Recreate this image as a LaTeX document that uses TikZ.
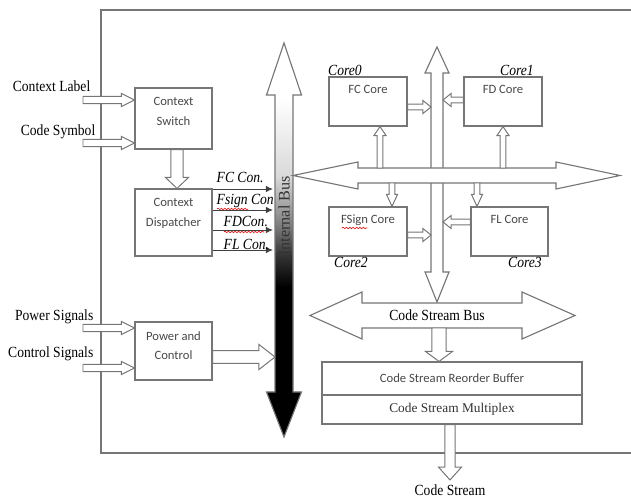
\documentclass[tikz,border=0pt]{standalone}
\usepackage{fontspec}
\setmainfont{Liberation Serif}
\newfontfamily\lblfont{Liberation Serif}[FakeStretch=0.88]
\newfontfamily\boxfont{Carlito}
\usetikzlibrary{calc,arrows.meta,decorations.pathmorphing}

\definecolor{linegray}{RGB}{118,118,118}
\definecolor{boxtext}{RGB}{72,72,72}

% white at the top of the bus, black from the middle down
\pgfdeclareverticalshading{busfade}{100bp}{color(0bp)=(black); color(44bp)=(black);
  color(48bp)=(black!80); color(52bp)=(black!50); color(58bp)=(black!15);
  color(68bp)=(white); color(100bp)=(white)}

% hollow block arrow: from, to, shaft half-width, head half-width, head length
\newcommand{\blockarrow}[5]{%
  \filldraw[blockarr] let \p1=(#1), \p2=(#2),
      \n1={atan2(\y2-\y1,\x2-\x1)}, \n2={veclen(\x2-\x1,\y2-\y1)} in
    ($(\p1)+({\n1+90}:#3)$) -- ++(\n1:{\n2-#5}) -- ++({\n1+90}:{#4-#3}) -- (\p2)
    -- ($(\p2)+({\n1+180}:#5)+({\n1-90}:#4)$) -- ++({\n1+90}:{#4-#3})
    -- ($(\p1)+({\n1-90}:#3)$) -- cycle;}

\begin{document}
\begin{tikzpicture}[x=0.025cm, y=-0.025cm, line join=miter,
  box/.style={draw=linegray, line width=0.8pt, minimum width=1.925cm},
  core/.style={box, minimum width=1.95cm, minimum height=1.225cm},
  boxtxt/.style={font=\boxfont\fontsize{9}{13.8}\selectfont, text=boxtext,
    align=center, anchor=north, inner sep=0pt, yshift=-7pt},
  lbl/.style={font=\lblfont\fontsize{11}{13}\selectfont, inner sep=1pt},
  sig/.style={font=\lblfont\itshape\fontsize{11}{13}\selectfont, inner sep=1pt},
  blockarr/.style={draw=linegray, fill=white, line width=0.7pt},
  bus/.style={draw=linegray, fill=white, line width=0.8pt},
  con/.style={draw=black!75, line width=0.6pt, -{Latex[length=5pt,width=4.5pt]}},
  squig/.style={red, line width=0.4pt, decorate,
    decoration={snake, amplitude=0.6pt, segment length=2.4pt}}]

\useasboundingbox (0,0) rectangle (631,497);

% --- Parameters ---
\def\ibx{284}      % x of the internal bus
\def\vbx{437}      % x of the vertical core bus

% --- Outer frame (open on the right) ---
\draw[linegray, line width=0.8pt] (631,10) -- (101,10) -- (101,453) -- (631,453);

% --- Left blocks ---
\node[box, minimum height=1.525cm, label={[boxtxt]north:Context\\Switch}] (cs) at (173.5,118.5) {};
\node[box, minimum height=1.675cm, label={[boxtxt]north:Context\\Dispatcher}] (cd) at (173.5,222.5) {};
\node[box, minimum height=1.45cm, label={[boxtxt]north:Power and\\Control}] (pc) at (173.5,351) {};

% --- Inputs ---
\node[lbl, anchor=east] (lab) at (92,86) {Context Label};
\node[lbl, anchor=east] (sym) at (97,132) {Code Symbol};
\node[lbl, anchor=east] (pws) at (95,317) {Power Signals};
\node[lbl, anchor=east] (cts) at (95,354) {Control Signals};
\coordinate (in1) at (83,100);
\coordinate (in2) at (83,143);
\coordinate (in3) at (83,328);
\coordinate (in4) at (83,368);
\foreach \c/\b in {in1/cs, in2/cs, in3/pc, in4/pc}
  \blockarrow{\c}{\c -| \b.west}{2.5pt}{4.6pt}{9.2pt};

\coordinate (csdown) at ($(cs.south)+(3.5,0)$);
\blockarrow{csdown}{csdown |- cd.north}{4.3pt}{8.2pt}{7.8pt};

% --- Internal bus (shaded double arrow) ---
\shade[shading=busfade, draw=linegray, line width=0.8pt]
  (\ibx,43) -- (\ibx+17.5,95) -- (\ibx+9,95) -- (\ibx+9,392) -- (\ibx+17.5,392)
  -- (\ibx,437) -- (\ibx-17.5,392) -- (\ibx-9,392) -- (\ibx-9,95) -- (\ibx-17.5,95) -- cycle;
\node[font=\fontsize{11.5}{13}\selectfont, text=black!80, rotate=90] (ibus) at (\ibx,216) {Internal Bus};
\coordinate (ibusW) at (\ibx-9,0);

% --- Dispatcher control lines ---
\foreach \yy in {189, 210, 230, 250}
  \draw[con] (cd.east |- 0,\yy) -- (273,\yy);
\node[sig, anchor=west] (sfc) at (215,177) {FC Con.};
\node[sig, anchor=west] (sfs) at (215,201) {Fsign Con};
\node[sig, anchor=west] (sfd) at (222,221) {FDCon.};
\node[sig, anchor=west] (sfl) at (222,244) {FL Con.};
\draw[squig] (217,209) -- (248,209);
\draw[squig] (224,232) -- (264,232);

\coordinate (pcout) at ($(pc.east)+(0,6)$);
\blockarrow{pcout}{pcout -| ibusW}{4.6pt}{8.9pt}{11.4pt};

% --- Core bus (vertical, then horizontal on top) ---
\draw[bus] (\vbx,47) -- (\vbx+12,73) -- (\vbx+6,73) -- (\vbx+6,272) -- (\vbx+12,272)
  -- (\vbx,302) -- (\vbx-12,272) -- (\vbx-6,272) -- (\vbx-6,73) -- (\vbx-12,73) -- cycle;
\draw[bus] (293,175.5) -- (358,162) -- (358,168) -- (556,168) -- (556,162) -- (620,175.5)
  -- (556,189) -- (556,183) -- (358,183) -- (358,189) -- cycle;
\coordinate (vbusW) at (\vbx-6,0);
\coordinate (vbusE) at (\vbx+6,0);
\coordinate (hbusN) at (0,168);
\coordinate (hbusS) at (0,183);

% --- Cores ---
\node[core, label={[boxtxt, yshift=1pt]north:FC Core}] (fc) at (368,101.5) {};
\node[core, label={[boxtxt, yshift=1pt]north:FD Core}] (fd) at (503,101.5) {};
\node[core, label={[boxtxt, yshift=1pt]north:FSign Core}] (fs) at (368,231.5) {};
\node[core, minimum width=1.925cm, label={[boxtxt, yshift=1pt]north:FL Core}] (fl) at (509.5,231.5) {};
\draw[squig] (342,228) -- (367,228);

\node[sig] (c0) at (345,70) {Core0};
\node[sig] (c1) at (517,70) {Core1};
\node[sig] (c2) at (351,262) {Core2};
\node[sig] (c3) at (525,262) {Core3};

\coordinate (fcout) at ($(fc.east)+(0,5.5)$);
\coordinate (fdin)  at ($(fd.west)+(0,-1.5)$);
\coordinate (fsout) at ($(fs.east)+(0,3.5)$);
\coordinate (flin)  at ($(fl.west)+(0,-9.5)$);
\blockarrow{fcout}{fcout -| vbusW}{2.1pt}{4.6pt}{5.7pt};
\blockarrow{fdin}{fdin -| vbusE}{2.1pt}{4.6pt}{5.7pt};
\blockarrow{fsout}{fsout -| vbusW}{2.1pt}{4.6pt}{5.7pt};
\blockarrow{flin}{flin -| vbusE}{2.1pt}{4.6pt}{5.7pt};

\coordinate (fcup) at ($(fc.south)+(12,0)$);
\coordinate (fdup) at (fd.south);
\coordinate (fsdn) at ($(fs.north)+(24,0)$);
\coordinate (fldn) at ($(fl.north)+(-32.5,0)$);
\blockarrow{fcup |- hbusN}{fcup}{2.1pt}{4.3pt}{6.4pt};
\blockarrow{fdup |- hbusN}{fdup}{2.1pt}{4.3pt}{6.4pt};
\blockarrow{fsdn |- hbusS}{fsdn}{2.1pt}{3.9pt}{8.5pt};
\blockarrow{fldn |- hbusS}{fldn}{2.1pt}{3.9pt}{8.5pt};

% --- Code stream bus ---
\draw[bus] (310,315.5) -- (362,292) -- (362,303) -- (522,303) -- (522,292) -- (575,315.5)
  -- (522,339) -- (522,328) -- (362,328) -- (362,339) -- cycle;
\node[lbl] (csbus) at (437,315) {Code Stream Bus};
\coordinate (csbusS) at (0,328);

% --- Reorder buffer / multiplex ---
\node[box, minimum width=6.5cm, minimum height=0.825cm, font=\boxfont\fontsize{9}{11}\selectfont,
  text=boxtext] (rb) at (452,378.5) {Code Stream Reorder Buffer};
\node[box, minimum width=6.5cm, minimum height=0.725cm, font=\fontsize{9.5}{11}\selectfont,
  text=boxtext!70!black] (mx) at (452,409.5) {Code Stream Multiplex};

\coordinate (bufin) at ($(rb.north)+(-13,0)$);
\blockarrow{bufin |- csbusS}{bufin}{5pt}{9.6pt}{7.1pt};

% --- Output ---
\coordinate (out) at (450,480);
\blockarrow{mx.south -| out}{out}{3.6pt}{8.2pt}{9.2pt};
\node[lbl, anchor=base, inner sep=0pt] (cstr) at (450,495.5) {Code Stream};

\end{tikzpicture}
\end{document}
